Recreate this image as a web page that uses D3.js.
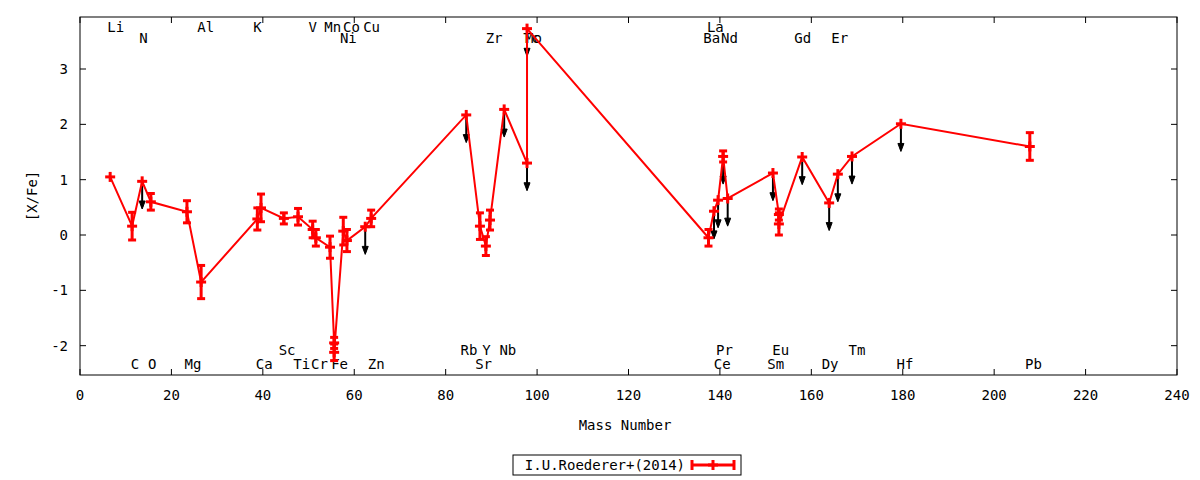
<!DOCTYPE html>
<html><head><meta charset="utf-8">
<script src="https://cdn.jsdelivr.net/npm/d3@7"></script>
<style>body{margin:0;background:#fff}text{font-family:"DejaVu Sans Mono",monospace;font-size:14px;font-stretch:condensed}</style>
</head><body><svg id="c" width="1200" height="480"></svg>
<script>
// [mass, value, error, upper limit]
const mass = [6.6, 11.4, 13.6, 15.5, 23.4, 26.5, 38.8, 39.6, 44.6, 47.7, 50.9, 51.6, 54.7, 55.6, 55.6, 57.6, 58.4, 62.4, 63.7, 84.5, 87.5, 88.8, 89.7, 92.8, 97.8, 97.8, 137.5, 138.7, 139.6, 140.7, 141.7, 151.6, 152.9, 152.9, 158, 163.9, 165.8, 168.9, 179.6, 207.8];
const xfe  = [1.05, 0.16, 0.97, 0.6, 0.42, -0.85, 0.29, 0.49, 0.3, 0.33, 0.1, -0.05, -0.22, -1.95, -2.12, 0.07, -0.1, 0.15, 0.3, 2.17, 0.16, -0.2, 0.27, 2.27, 1.3, 3.73, -0.05, 0.43, 0.63, 1.42, 0.66, 1.12, 0.37, 0.2, 1.41, 0.58, 1.1, 1.42, 2.01, 1.6];
const err  = [0, 0.25, 0, 0.15, 0.2, 0.3, 0.2, 0.25, 0.1, 0.15, 0.15, 0.15, 0.2, 0.1, 0.15, 0.25, 0.2, 0, 0.15, 0, 0.24, 0.17, 0.18, 0, 0, 0, 0.15, 0, 0, 0.1, 0, 0, 0.1, 0.2, 0, 0, 0, 0, 0, 0.25];
const upper= [0,0,1,0,0,0,0,0,0,0,0,0,0,0,0,0,0,1,0,1,0,0,0,1,1,1,0,1,1,1,1,1,0,0,1,1,1,1,1,0];
const labels = ["Li","N","Al","K","V","Mn","Co","Cu","Ni","Zr","Tc","Mo","La","Ba","Nd","Gd","Er",
  "C","O","Mg","Ca","Sc","Ti","Cr","Fe","Zn","Rb","Y","Sr","Nb","Pr","Ce","Eu","Sm","Dy","Tm","Hf","Pb"];
const labelMass = [7.8,13.9,27.5,38.8,50.9,55.3,59.4,63.8,58.7,90.6,98.8,99.2,139,138.2,142.1,158.1,166.2,
  12,15.8,24.7,40.3,45.3,48.5,52.4,56.8,64.8,85.1,88.9,88.3,93.6,141,140.5,153.3,152.2,164.1,170,180.5,208.6];
const labelRow = [0,1,0,0,0,0,0,0,1,1,1,1,0,1,1,1,1,
  3,3,3,3,2,3,3,3,3,2,2,3,2,2,3,2,3,3,2,3,3];
const xTicks = d3.range(0, 241, 20), yTicks = [-2,-1,0,1,2,3];

const svg = d3.select("#c");
const L=80,R=1177,T=17,B=375;
const x = d3.scaleLinear().domain([0,240]).range([L,R]);
const y = d3.scaleLinear().domain([-2.53,3.94]).range([B,T]);

svg.append("rect").attr("x",L).attr("y",T).attr("width",R-L).attr("height",B-T).attr("fill","none").attr("stroke","#000");
const g = svg.append("g");
xTicks.forEach(t=>{
  g.append("line").attr("x1",x(t)).attr("x2",x(t)).attr("y1",B).attr("y2",B-6).attr("stroke","#000");
  g.append("line").attr("x1",x(t)).attr("x2",x(t)).attr("y1",T).attr("y2",T+6).attr("stroke","#000");
  g.append("text").attr("x",x(t)).attr("y",B+25).attr("text-anchor","middle").text(t);
});
yTicks.forEach(t=>{
  g.append("line").attr("x1",L).attr("x2",L+6).attr("y1",y(t)).attr("y2",y(t)).attr("stroke","#000");
  g.append("line").attr("x1",R).attr("x2",R-6).attr("y1",y(t)).attr("y2",y(t)).attr("stroke","#000");
  g.append("text").attr("x",L-12).attr("y",y(t)+5).attr("text-anchor","end").text(t);
});
svg.append("text").attr("x",625).attr("y",430).attr("text-anchor","middle").text("Mass Number");
svg.append("text").attr("transform","translate(37,196) rotate(-90)").attr("text-anchor","middle").text("[X/Fe]");

const rowY=[27,38,350,364];
labels.forEach((l,i)=>{
  svg.append("text").attr("x",x(labelMass[i])).attr("y",rowY[labelRow[i]]+5).attr("text-anchor","middle").text(l);
});

const pts = mass.map((m,i)=>({m,v:xfe[i],e:err[i],u:upper[i]}));
pts.filter(d=>d.u).forEach(d=>{
  const x0=x(d.m), y0=y(d.v), y1=y(d.v-0.5);
  svg.append("line").attr("x1",x0).attr("x2",x0).attr("y1",y0).attr("y2",y1-2).attr("stroke","#000").attr("stroke-width",2);
  svg.append("path").attr("d",`M${x0-3},${y1-8}L${x0+3},${y1-8}L${x0},${y1}Z`).attr("fill","#000").attr("stroke","#000");
});
svg.append("path").datum(pts).attr("fill","none").attr("stroke","red").attr("stroke-width",2)
  .attr("d",d3.line().x(d=>x(d.m)).y(d=>y(d.v)));
const red = svg.append("g").attr("stroke","red").attr("stroke-width",3);
pts.forEach(d=>{
  const x0=x(d.m);
  red.append("line").attr("x1",x0-5).attr("x2",x0+5).attr("y1",y(d.v)).attr("y2",y(d.v));
  red.append("line").attr("x1",x0).attr("x2",x0).attr("y1",y(d.v)-5).attr("y2",y(d.v)+5);
  if(d.e>0){
    red.append("line").attr("x1",x0).attr("x2",x0).attr("y1",y(d.v+d.e)).attr("y2",y(d.v-d.e));
    [d.v+d.e,d.v-d.e].forEach(v=>red.append("line").attr("x1",x0-4).attr("x2",x0+4).attr("y1",y(v)).attr("y2",y(v)));
  }
});
// legend
svg.append("rect").attr("x",513).attr("y",455).attr("width",228).attr("height",20).attr("fill","none").attr("stroke","#000");
svg.append("text").attr("x",685).attr("y",470).attr("text-anchor","end").text("I.U.Roederer+(2014)");
const lg = svg.append("g").attr("stroke","red").attr("stroke-width",3);
lg.append("line").attr("x1",692).attr("x2",734).attr("y1",465).attr("y2",465);
[692,734].forEach(v=>lg.append("line").attr("x1",v).attr("x2",v).attr("y1",460).attr("y2",470));
lg.append("line").attr("x1",708).attr("x2",718).attr("y1",465).attr("y2",465);
lg.append("line").attr("x1",713).attr("x2",713).attr("y1",460).attr("y2",470);
</script></body></html>
